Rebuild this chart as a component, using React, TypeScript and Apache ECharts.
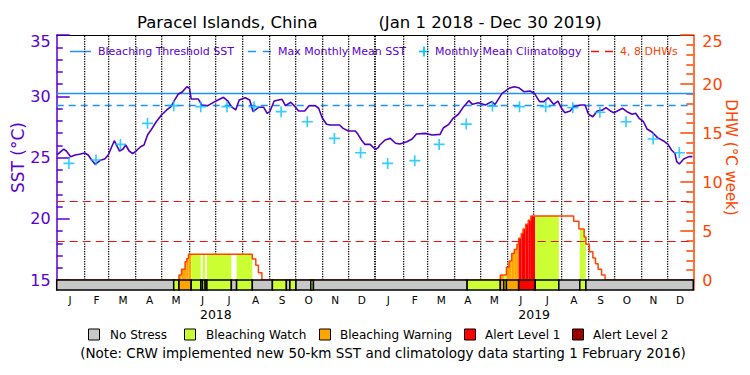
import React, { useEffect, useRef } from "react";
import * as echarts from "echarts";

// ---------------- data ----------------
const periodStart = "2018-01-01";
const periodEnd = "2019-12-31";

const sstDates = [
  "2018-01-01","2018-01-03","2018-01-09","2018-01-12","2018-01-17","2018-01-22","2018-01-27","2018-02-02","2018-02-06","2018-02-10",
  "2018-02-14","2018-02-20","2018-02-25","2018-03-01","2018-03-05","2018-03-08","2018-03-10","2018-03-14","2018-03-18","2018-03-21",
  "2018-03-25","2018-03-29","2018-04-02","2018-04-07","2018-04-11","2018-04-15","2018-04-19","2018-04-25","2018-05-01","2018-05-07",
  "2018-05-12","2018-05-16","2018-05-20","2018-05-25","2018-05-30","2018-06-02","2018-06-04","2018-06-12","2018-06-16","2018-06-23",
  "2018-07-01","2018-07-07","2018-07-11","2018-07-16","2018-07-20","2018-07-25","2018-07-29","2018-08-05","2018-08-10","2018-08-14",
  "2018-08-20","2018-08-26","2018-08-30","2018-09-02","2018-09-07","2018-09-16","2018-09-20","2018-09-26","2018-10-01","2018-10-05",
  "2018-10-12","2018-10-17","2018-10-24","2018-10-28","2018-11-01","2018-11-06","2018-11-10","2018-11-21","2018-11-25","2018-12-01",
  "2018-12-09","2018-12-12","2018-12-16","2018-12-20","2018-12-26","2019-01-01","2019-01-04","2019-01-06","2019-01-12","2019-01-18",
  "2019-01-24","2019-01-29","2019-02-06","2019-02-12","2019-02-17","2019-02-27","2019-03-07","2019-03-16","2019-03-20","2019-03-26",
  "2019-03-31","2019-04-06","2019-04-12","2019-04-18","2019-04-22","2019-04-29","2019-05-07","2019-05-14","2019-05-18","2019-05-26",
  "2019-06-03","2019-06-09","2019-06-14","2019-06-20","2019-06-27","2019-07-02","2019-07-08","2019-07-13","2019-07-18","2019-07-24",
  "2019-07-29","2019-08-02","2019-08-06","2019-08-12","2019-08-16","2019-08-24","2019-08-29","2019-09-02","2019-09-07","2019-09-12",
  "2019-09-18","2019-09-22","2019-09-27","2019-10-01","2019-10-05","2019-10-11","2019-10-16","2019-10-22","2019-10-26","2019-10-30",
  "2019-11-04","2019-11-08","2019-11-14","2019-11-20","2019-11-27","2019-12-02","2019-12-06","2019-12-10","2019-12-12","2019-12-15",
  "2019-12-20","2019-12-26","2019-12-30",
];
const sstValues = [
  25.26,25.31,25.69,25.53,25.07,25.2,25.26,25.37,25.2,24.8,
  24.44,24.77,24.88,25.2,25.88,26.37,26.07,25.53,25.69,26.02,
  25.53,25.31,25.53,25.88,26.02,26.84,27.24,27.92,28.47,28.88,
  29.15,29.69,30.16,30.37,30.78,30.65,29.78,29.78,29.29,29.23,
  29.56,29.78,29.91,29.61,29.15,28.88,29.69,29.88,29.69,28.74,
  29.1,29.1,28.6,28.74,29.61,29.75,29.23,29.51,29.15,28.8,
  28.8,29.23,29.23,29.02,28.25,27.71,27.65,27.65,27.38,27.16,
  27.16,26.89,26.43,26.07,26.07,25.65,25.8,26.02,26.43,26.56,
  26.16,26.1,26.29,26.51,26.92,26.97,26.84,26.89,27.43,27.71,
  28.2,28.53,29.15,29.64,29.34,29.47,29.29,29.56,29.34,30.24,
  30.65,30.78,30.7,30.37,30.43,30.24,29.56,29.56,29.88,29.34,
  29.61,29.02,28.66,28.8,29.15,29.29,29.29,28.53,28.33,28.8,
  28.88,29.07,28.8,28.66,28.8,29.02,28.74,28.53,28.61,28.2,
  27.92,27.33,27.06,26.62,26.35,26.07,25.61,25.34,24.66,24.47,
  24.88,25.07,25.07,
];

const climDates = [
  "2018-01-15","2018-02-15","2018-03-15","2018-04-15","2018-05-15","2018-06-15","2018-07-15","2018-08-15","2018-09-15","2018-10-15","2018-11-15","2018-12-15",
  "2019-01-15","2019-02-15","2019-03-15","2019-04-15","2019-05-15","2019-06-15","2019-07-15","2019-08-15","2019-09-15","2019-10-15","2019-11-15","2019-12-15",
];
const climValues = [
  24.52,24.8,26.07,27.79,29.23,29.15,29.15,29.15,28.74,27.92,26.56,25.39,
  24.52,24.74,26.07,27.73,29.2,29.15,29.15,29.07,28.69,27.92,26.51,25.39,
];

const dhwDates = [
  "2018-01-01","2018-05-21","2018-05-24","2018-05-28","2018-05-30","2018-06-01","2018-08-13","2018-08-17","2018-08-20","2018-08-24",
  "2019-05-24","2019-05-31","2019-06-03","2019-06-06","2019-06-09","2019-06-12","2019-06-14","2019-06-17","2019-06-19","2019-06-22",
  "2019-06-25","2019-06-28","2019-08-16","2019-08-22","2019-08-28","2019-08-30","2019-09-03","2019-09-07","2019-09-10","2019-09-13",
  "2019-09-17","2019-09-21","2019-12-31",
];
const dhwValues = [
  0,0.5,1.09,1.87,2.2,2.62,2.14,1.5,0.75,0,
  0.5,1.3,1.95,2.7,3.1,3.65,4.25,4.75,5.2,5.7,
  6.1,6.53,6.0,5.2,4.4,3.65,2.89,2.25,1.65,1.1,
  0.51,0,0,
];

// status: 0 No Stress, 1 Watch, 2 Warning, 3 Alert 1, 4 Alert 2
const statusStart = [
  "2018-01-01","2018-05-15","2018-05-21","2018-06-04","2018-06-15","2018-06-17","2018-06-20","2018-06-22","2018-07-20","2018-07-26",
  "2018-08-13","2018-09-05","2018-09-21","2018-09-25","2018-10-02","2018-10-19","2018-10-22","2019-04-16","2019-05-24","2019-05-28",
  "2019-05-31","2019-06-14","2019-07-03","2019-07-30","2019-08-23","2019-08-30",
];
const statusEnd = [
  "2018-05-15","2018-05-21","2018-06-04","2018-06-15","2018-06-17","2018-06-20","2018-06-22","2018-07-20","2018-07-26","2018-08-13",
  "2018-09-05","2018-09-21","2018-09-25","2018-10-02","2018-10-19","2018-10-22","2019-04-16","2019-05-24","2019-05-28","2019-05-31",
  "2019-06-14","2019-07-03","2019-07-30","2019-08-23","2019-08-30","2019-12-31",
];
const statusLevel = [0,1,2,1,0,1,0,1,0,1,0,1,0,1,0,1,0,1,2,1,2,3,1,0,1,0];

const monthLabels = ["J","F","M","A","M","J","J","A","S","O","N","D","J","F","M","A","M","J","J","A","S","O","N","D"];
const yearLabels = ["2018", "2019"];
const monthStarts = [
  "2018-02-01","2018-03-01","2018-04-01","2018-05-01","2018-06-01","2018-07-01","2018-08-01","2018-09-01","2018-10-01","2018-11-01","2018-12-01",
  "2019-02-01","2019-03-01","2019-04-01","2019-05-01","2019-06-01","2019-07-01","2019-08-01","2019-09-01","2019-10-01","2019-11-01","2019-12-01",
];
const yearStarts = ["2019-01-01"];

const bleachingThreshold = 30.27;
const maxMonthlyMean = 29.27;
const dhwLevels = [4, 8];

const sstTicks = { min: 15, max: 35, step: 5 };
const dhwTicks = { min: 0, max: 25, step: 5 };

const statusNames = ["No Stress", "Bleaching Watch", "Bleaching Warning", "Alert Level 1", "Alert Level 2"];

// ---------------- styles ----------------
const statusColors = ["#c8c8c8", "#ccff33", "#ffa500", "#ff0000", "#990000"];
const PURPLE = "#5a00d0";
const SST_LINE = "#5000c0";
const BLUE = "#1e90ff";
const CYAN = "#00c0ff";
const ORANGE = "#ff4500";
const RED = "#ee1111";
const FONT = "DejaVu Sans";

const DAY = 86400000;
const T = (s: string) => {
  const [y, m, d] = s.split("-").map(Number);
  return Date.UTC(y, m - 1, d);
};

const PLUS = "path://M8.5,0 L11.5,0 L11.5,8.5 L20,8.5 L20,11.5 L11.5,11.5 L11.5,20 L8.5,20 L8.5,11.5 L0,11.5 L0,8.5 L8.5,8.5 Z";

function buildFill() {
  const dT = dhwDates.map(T);
  const sS = statusStart.map(T);
  const sE = statusEnd.map(T);
  const out: number[][] = [];
  for (let t = T(periodStart); t < T(periodEnd); t += DAY) {
    let v = 0;
    for (let i = 0; i < dT.length; i++) if (dT[i] <= t) v = dhwValues[i];
    let l = 0;
    for (let i = 0; i < sS.length; i++) if (sS[i] <= t && t < sE[i]) l = statusLevel[i];
    if (v > 0 && l > 0) {
      const last = out[out.length - 1];
      if (last && last[1] === t && last[2] === v && last[3] === l) last[1] = t + DAY;
      else out.push([t, t + DAY, v, l]);
    }
  }
  return out;
}

export default function App() {
  const ref = useRef<HTMLDivElement>(null);
  useEffect(() => {
    if (!ref.current) return;
    const chart = echarts.init(ref.current, undefined, { renderer: "svg" });
    const xMin = T(periodStart);
    const xMax = T(periodEnd);

    const gridBase = { left: 56.7, right: 56.7, containLabel: false, outerBoundsMode: "none" };

    const legendY = 51.5;
    const bottomY = 334.5;
    const boxXs = [88, 184, 319, 464, 572];
    const labelXs = [110, 206, 340, 485, 593];

    const graphic: any[] = [
      { type: "text", x: 137, y: 22, style: { text: "Paracel Islands, China", fontSize: 16.5, fontFamily: FONT, fill: "#000", textVerticalAlign: "middle", verticalAlign: "middle" } },
      { type: "text", x: 490, y: 22, style: { text: "(Jan 1 2018 - Dec 30 2019)", fontSize: 16.5, fontFamily: FONT, fill: "#000", textAlign: "center", align: "center", textVerticalAlign: "middle", verticalAlign: "middle" } },
      // top legend
      { type: "line", shape: { x1: 70, y1: legendY, x2: 91, y2: legendY }, style: { stroke: BLUE, lineWidth: 1.5 } },
      { type: "text", x: 98, y: legendY, style: { text: "Bleaching Threshold SST", fontSize: 11, fontFamily: FONT, fill: PURPLE, textVerticalAlign: "middle", verticalAlign: "middle" } },
      { type: "line", shape: { x1: 248, y1: legendY, x2: 256, y2: legendY }, style: { stroke: BLUE, lineWidth: 1.5 } },
      { type: "line", shape: { x1: 263, y1: legendY, x2: 271, y2: legendY }, style: { stroke: BLUE, lineWidth: 1.5 } },
      { type: "text", x: 278, y: legendY, style: { text: "Max Monthly Mean SST", fontSize: 11, fontFamily: FONT, fill: PURPLE, textVerticalAlign: "middle", verticalAlign: "middle" } },
      { type: "line", shape: { x1: 419, y1: legendY, x2: 429, y2: legendY }, style: { stroke: CYAN, lineWidth: 1.7 } },
      { type: "line", shape: { x1: 424, y1: legendY - 5, x2: 424, y2: legendY + 5 }, style: { stroke: CYAN, lineWidth: 1.7 } },
      { type: "text", x: 435, y: legendY, style: { text: "Monthly Mean Climatology", fontSize: 11, fontFamily: FONT, fill: PURPLE, textVerticalAlign: "middle", verticalAlign: "middle" } },
      { type: "line", shape: { x1: 591, y1: legendY, x2: 599, y2: legendY }, style: { stroke: RED, lineWidth: 1.5 } },
      { type: "line", shape: { x1: 605, y1: legendY, x2: 613, y2: legendY }, style: { stroke: RED, lineWidth: 1.5 } },
      { type: "text", x: 620, y: legendY, style: { text: "4, 8 DHWs", fontSize: 11, fontFamily: FONT, fill: ORANGE, textVerticalAlign: "middle", verticalAlign: "middle" } },
      // note
      { type: "text", x: 383, y: 353, style: { text: "(Note: CRW implemented new 50-km SST and climatology data starting 1 February 2016)", fontSize: 13.5, fontFamily: FONT, fill: "#000", textAlign: "center", align: "center", textVerticalAlign: "middle", verticalAlign: "middle" } },
    ];
    statusNames.forEach((name, i) => {
      graphic.push({ type: "rect", shape: { x: boxXs[i] + 0.5, y: bottomY - 5.5, width: 11, height: 11 }, style: { fill: statusColors[i], stroke: "#000", lineWidth: 1 } });
      graphic.push({ type: "text", x: labelXs[i], y: bottomY + 0.5, style: { text: name, fontSize: 12, fontFamily: FONT, fill: "#000", textVerticalAlign: "middle", verticalAlign: "middle" } });
    });

    const fillData = buildFill();
    const statusData = statusStart.map((s, i) => [T(s), T(statusEnd[i]), statusLevel[i]]);
    const gridLineData = [
      ...monthStarts.map((s) => [T(s), sstTicks.min, 1]),
      ...yearStarts.map((s) => [T(s), sstTicks.min, 2]),
    ];

    const option: any = {
      animation: false,
      backgroundColor: "#fff",
      textStyle: { fontFamily: FONT },
      graphic,
      grid: [
        { ...gridBase, top: 35, height: 245 },
        { ...gridBase, top: 280, height: 10 },
      ],
      xAxis: [
        { type: "time", gridIndex: 0, min: xMin, max: xMax, show: false },
        { type: "time", gridIndex: 0, min: xMin, max: xMax, position: "top", axisLine: { show: true, lineStyle: { color: "#000", width: 1 } }, axisTick: { show: false }, axisLabel: { show: false }, splitLine: { show: false } },
        { type: "time", gridIndex: 1, min: xMin, max: xMax, show: false },
        { type: "category", gridIndex: 1, data: monthLabels, position: "bottom", boundaryGap: true, axisLine: { show: false }, axisTick: { show: false }, splitLine: { show: false }, axisLabel: { interval: 0, margin: 4, fontSize: 10.5, fontFamily: FONT, color: "#000" } },
        { type: "category", gridIndex: 1, data: yearLabels, position: "bottom", boundaryGap: true, axisLine: { show: false }, axisTick: { show: false }, splitLine: { show: false }, axisLabel: { interval: 0, margin: 18, fontSize: 12.5, fontFamily: FONT, color: "#000" } },
      ],
      yAxis: [
        {
          type: "value", gridIndex: 0, position: "left", min: sstTicks.min, max: sstTicks.max, interval: sstTicks.step,
          axisLine: { show: true, lineStyle: { color: PURPLE, width: 1.5 } },
          axisTick: { show: true, inside: true, length: 13, lineStyle: { color: PURPLE, width: 1.5 } },
          minorTick: { show: true, splitNumber: 5, length: 6, lineStyle: { color: PURPLE, width: 1.5 } },
          splitLine: { show: false }, minorSplitLine: { show: false },
          axisLabel: {
            margin: 6, fontSize: 16, fontFamily: FONT, color: PURPLE,
            formatter: (v: number) => (v === sstTicks.max ? "{t|" + v + "}" : String(v)),
            rich: { t: { fontSize: 16, fontFamily: FONT, color: PURPLE, padding: [12, 0, 0, 0] } },
          },
          name: "SST (°C)", nameLocation: "middle", nameRotate: 90, nameGap: 30, nameMoveOverlap: false,
          nameTextStyle: { color: PURPLE, fontSize: 17, fontFamily: FONT },
        },
        {
          type: "value", gridIndex: 0, position: "right", min: dhwTicks.min, max: dhwTicks.max, interval: dhwTicks.step,
          axisLine: { show: true, lineStyle: { color: ORANGE, width: 1.5 } },
          axisTick: { show: true, inside: true, length: 13, lineStyle: { color: ORANGE, width: 1.5 } },
          minorTick: { show: true, splitNumber: 5, length: 7, lineStyle: { color: ORANGE, width: 1.5 } },
          splitLine: { show: false }, minorSplitLine: { show: false },
          axisLabel: {
            margin: 9, fontSize: 16, fontFamily: FONT, color: ORANGE,
            formatter: (v: number) => (v === dhwTicks.max ? "{t|" + v + "}" : String(v)),
            rich: { t: { fontSize: 16, fontFamily: FONT, color: ORANGE, padding: [12, 0, 0, 0] } },
          },
          name: "DHW (°C week)", nameLocation: "middle", nameRotate: -90, nameGap: 30, nameMoveOverlap: false,
          nameTextStyle: { color: ORANGE, fontSize: 15, fontFamily: FONT },
        },
        { type: "value", gridIndex: 1, position: "left", min: 0, max: 1, axisLine: { show: true, lineStyle: { color: PURPLE, width: 1.5 } }, axisTick: { show: false }, axisLabel: { show: false }, splitLine: { show: false } },
        { type: "value", gridIndex: 1, position: "right", min: 0, max: 1, axisLine: { show: true, lineStyle: { color: ORANGE, width: 1.5 } }, axisTick: { show: false }, axisLabel: { show: false }, splitLine: { show: false } },
      ],
      series: [
        {
          type: "custom", name: "gridlines", xAxisIndex: 0, yAxisIndex: 0, z: 2, silent: true,
          data: gridLineData, encode: { x: 0, y: 1 },
          renderItem: (_p: any, api: any) => {
            const t = api.value(0);
            const top = api.coord([t, sstTicks.max]);
            const bot = api.coord([t, sstTicks.min]);
            const w = api.value(2);
            const x = Math.round(top[0]) - (w === 2 ? 1 : 0);
            const width = w === 2 ? 2 : 1.3;
            const children: any[] = [];
            for (let y = Math.round(top[1]) + 1; y < bot[1] - 0.5; y += 2.5) {
              children.push({ type: "rect", shape: { x, y, width, height: 1.2 }, style: { fill: "#000" } });
            }
            return { type: "group", children };
          },
        },
        {
          type: "custom", name: "DHW fill", xAxisIndex: 0, yAxisIndex: 1, z: 3, silent: true,
          data: fillData, encode: { x: [0, 1], y: 2 },
          renderItem: (_p: any, api: any) => {
            const a = api.coord([api.value(0), api.value(2)]);
            const b = api.coord([api.value(1), 0]);
            return { type: "rect", shape: { x: a[0], y: a[1], width: b[0] - a[0], height: b[1] - a[1] }, style: { fill: statusColors[api.value(3)] } };
          },
        },
        {
          type: "line", name: "DHW", xAxisIndex: 0, yAxisIndex: 1, z: 4, step: "end", showSymbol: false, symbol: "none",
          data: dhwDates.map((d, i) => [T(d), dhwValues[i]]),
          lineStyle: { color: ORANGE, width: 1.5 },
          markLine: {
            silent: true, symbol: "none", label: { show: false },
            lineStyle: { color: RED, width: 1.2, type: [8, 5] },
            data: dhwLevels.map((v) => ({ yAxis: v })),
          },
        },
        {
          type: "line", name: "SST", xAxisIndex: 0, yAxisIndex: 0, z: 5, showSymbol: false, symbol: "none",
          data: sstDates.map((d, i) => [T(d), sstValues[i]]),
          lineStyle: { color: SST_LINE, width: 1.6 },
          markLine: {
            silent: true, symbol: "none", label: { show: false },
            data: [
              { yAxis: bleachingThreshold, lineStyle: { color: BLUE, width: 1.3, type: "solid" } },
              { yAxis: maxMonthlyMean, lineStyle: { color: BLUE, width: 1.3, type: [7, 5] } },
            ],
          },
        },
        {
          type: "scatter", name: "Climatology", xAxisIndex: 0, yAxisIndex: 0, z: 6,
          symbol: PLUS, symbolSize: 11,
          data: climDates.map((d, i) => [T(d), climValues[i]]),
          itemStyle: { color: CYAN },
        },
        {
          type: "custom", name: "status", xAxisIndex: 2, yAxisIndex: 2, z: 7, silent: true,
          data: statusData, encode: { x: [0, 1] },
          renderItem: (_p: any, api: any) => {
            const a = api.coord([api.value(0), 1]);
            const b = api.coord([api.value(1), 0]);
            return { type: "rect", shape: { x: a[0], y: a[1], width: b[0] - a[0], height: b[1] - a[1] }, style: { fill: statusColors[api.value(2)], stroke: "#000", lineWidth: 1.5 } };
          },
        },
      ],
    };
    chart.setOption(option);
    return () => chart.dispose();
  }, []);
  return <div ref={ref} style={{ position: "fixed", left: 0, top: 0, width: 750, height: 375, background: "#fff" }} />;
}
